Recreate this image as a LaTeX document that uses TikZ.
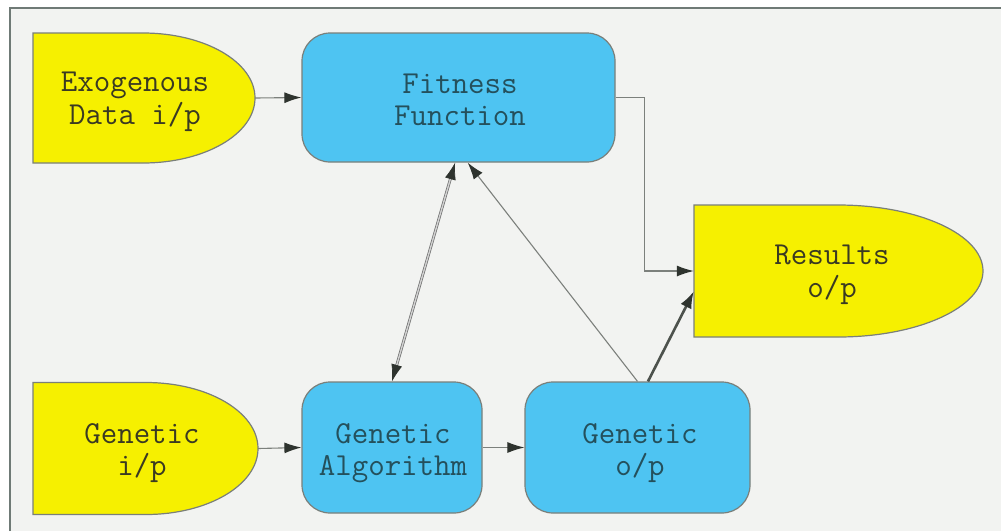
\documentclass[tikz,border=0pt]{standalone}
\usepackage{fontspec}
\usetikzlibrary{arrows.meta}
\definecolor{bgc}{HTML}{F2F3F1}
\definecolor{framec}{HTML}{6F7A76}
\definecolor{ylw}{HTML}{F6F000}
\definecolor{blu}{HTML}{4EC4F2}
\definecolor{edgec}{HTML}{7A7F7A}
\definecolor{ytext}{HTML}{3A3A22}
\definecolor{btext}{HTML}{24505C}
\definecolor{linec}{HTML}{7C807C}
\definecolor{tipc}{HTML}{2E332E}
\begin{document}
\begin{tikzpicture}[x=1pt,y=-1pt,
  lbl/.style={font=\ttfamily\fontsize{32pt}{32.5pt}\selectfont, align=center},
  ylbl/.style={lbl, text=ytext},
  blbl/.style={lbl, text=btext},
  ybox/.style={rectangle, inner sep=0pt, draw=none},
  bbox/.style={rectangle, rounded corners=28pt, draw=edgec, line width=1.2pt, fill=blu, inner sep=0pt},
  yshape/.style={draw=edgec, line width=1.2pt, fill=ylw},
  conn/.style={draw=linec, line width=1.1pt, -{Latex[length=17pt,width=11pt,color=tipc]}},
  thick conn/.style={draw=tipc!85!white, line width=2.6pt, -{Latex[length=17pt,width=12pt,color=tipc]}},
  dbl conn/.style={draw=gray!85!black, double=gray!35, double distance=1.4pt, line width=0.7pt, {Latex[length=17pt,width=11pt,color=tipc]}-{Latex[length=17pt,width=11pt,color=tipc]}}
]
\useasboundingbox (0,0) rectangle (1001,531);
\fill[white] (0,0) rectangle (1001,531);
\fill[bgc] (10,8) rectangle (1001,531);
\draw[framec, line width=2pt] (10,531) -- (10,8) -- (1001,8);

% yellow shapes (nodes for anchors)
\node[ybox, minimum width=222pt, minimum height=130pt] (exo) at (144,98) {};
\node[ybox, minimum width=225pt, minimum height=132pt] (gin) at (145.5,448.5) {};
\node[ybox, minimum width=289pt, minimum height=132pt] (res) at (838.5,271) {};

\path[yshape] (33,33) -- (143,33) arc[start angle=-90, end angle=90, x radius=112, y radius=65] -- (33,163) -- cycle;
\path[yshape] (33,382.5) -- (146,382.5) arc[start angle=-90, end angle=90, x radius=112, y radius=66] -- (33,514.5) -- cycle;
\path[yshape] (694,205) -- (838,205) arc[start angle=-90, end angle=90, x radius=145, y radius=66] -- (694,337) -- cycle;

% blue boxes
\node[bbox, minimum width=313pt, minimum height=129pt] (fit) at (458.5,97.5) {};
\node[bbox, minimum width=180pt, minimum height=131pt] (ga) at (392,447.5) {};
\node[bbox, minimum width=225pt, minimum height=131pt] (gop) at (637.5,447.5) {};

% labels
\node[ylbl] (exot) at (135,102) {Exogenous\\Data i/p};
\node[ylbl] (gint) at (142,453) {Genetic\\i/p};
\node[ylbl] (rest) at (832,275) {Results\\o/p};
\node[blbl] (fitt) at (460,100) {Fitness\\Function};
\node[blbl] (gat) at (393,453) {Genetic\\Algorithm};
\node[blbl] (gopt) at (640,453) {Genetic\\o/p};

% connectors
\draw[conn] (exo.east) -- (fit.west);
\draw[conn] (gin.east) -- (ga.west);
\draw[conn] (ga.east) -- (gop.west);
\draw[conn] (fit.east) -- ++(29,0) |- (res.west);
\draw[thick conn] (gop.81.3) -- (res.188.7);
\draw[conn] (gop.north) -- (fit.-82.5);
\draw[dbl conn] (fit.-93.1) -- (ga.north);
\end{tikzpicture}
\end{document}
